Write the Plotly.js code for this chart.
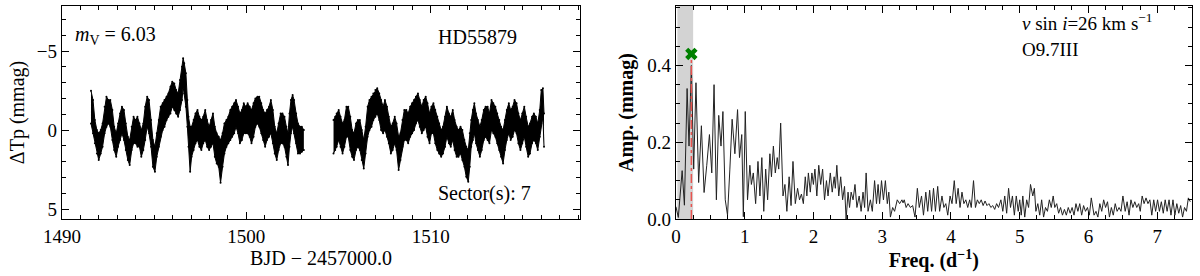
<!DOCTYPE html>
<html>
<head>
<meta charset="utf-8">
<script src="https://cdn.plot.ly/plotly-3.0.1.min.js"></script>
<style>html,body{margin:0;padding:0;background:#fff;}#chart{width:1200px;height:276px;}</style>
</head>
<body>
<div id="chart"></div>
<script>
// ---- Light curve (left panel): time in BJD-2457000, upper / lower edge of the point band (mmag)
const time1 = [1491.57,1491.68,1491.78,1491.89,1491.99,1492.10,1492.20,1492.31,1492.41,1492.52,1492.62,1492.73,1492.83,1492.94,1493.04,1493.15,1493.25,1493.36,1493.46,1493.57,1493.67,1493.78,1493.88,1493.99,1494.09,1494.20,1494.30,1494.41,1494.51,1494.62,1494.72,1494.83,1494.93,1495.04,1495.14,1495.25,1495.35,1495.46,1495.56,1495.67,1495.77,1495.88,1495.98,1496.09,1496.19,1496.30,1496.40,1496.51,1496.57,1496.63,1496.72,1496.80,1496.86,1496.95,1497.03,1497.14,1497.24,1497.35,1497.45,1497.56,1497.66,1497.77,1497.87,1497.98,1498.08,1498.19,1498.29,1498.39,1498.50,1498.60,1498.71,1498.81,1498.92,1499.02,1499.13,1499.23,1499.34,1499.44,1499.55,1499.65,1499.76,1499.86,1499.97,1500.07,1500.18,1500.28,1500.39,1500.49,1500.60,1500.70,1500.81,1500.91,1501.02,1501.12,1501.23,1501.33,1501.44,1501.54,1501.65,1501.75,1501.86,1501.96,1502.07,1502.17,1502.26,1502.34,1502.42,1502.51,1502.59,1502.70,1502.80,1502.91,1503.01,1503.12];
const bandTop1 = [-2.49,-1.90,-0.63,0,0.21,0,-0.42,-1.48,-2.11,-1.90,-1.90,-1.27,-0.21,0.21,-0.42,-1.05,-1.48,-1.27,-0.42,0.42,0.63,-0.21,-0.84,-0.63,-0.84,-0.42,0,-0.42,-1.48,-2.11,-1.90,-0.63,0.63,1.05,0.21,-0.63,-1.48,-1.69,-1.90,-2.11,-2.32,-2.74,-3.06,-2.95,-2.53,-2.32,-3.16,-4.01,-4.54,-4.22,-3.59,-1.90,-0.84,-0.21,-0.21,-0.63,-1.05,-1.27,-0.84,-0.63,-0.84,-1.27,-0.63,-0.21,-0.63,-1.05,-0.21,0.21,0.42,0.63,0.21,-0.42,-0.63,-0.84,-1.27,-1.48,-1.69,-1.90,-1.48,-1.05,-1.27,-1.69,-1.48,-1.69,-1.48,-1.27,-1.69,-2.00,-2.11,-2.11,-1.69,-1.27,-1.05,-1.27,-1.48,-1.90,-1.27,-0.21,0.21,-0.42,-1.05,-1.05,-0.84,-0.21,0.21,-1.05,-1.90,-2.22,-1.90,-1.05,-0.42,-0.21,-0.21,0];
const bandBot1 = [-0.42,0.21,0.84,1.48,1.90,1.48,1.05,0.21,-0.21,-0.42,-0.21,0.63,1.27,1.69,1.05,0.63,0.21,0.63,1.27,1.90,2.22,1.27,0.84,0.84,1.05,1.05,1.69,1.27,0.63,-0.21,0.21,1.05,2.32,2.64,1.69,1.05,0.42,0,-0.21,-0.63,-0.84,-1.05,-1.48,-1.27,-1.05,-0.84,-1.27,-1.90,-2.74,-2.32,-1.48,-0.21,1.05,2.64,1.69,1.27,0.84,0.63,1.05,1.27,0.84,0.63,1.05,1.27,1.05,0.84,1.69,2.11,2.32,3.33,2.32,1.48,1.05,0.84,0.63,0.42,0.21,-0.21,0.21,0.84,0.63,0.21,0.21,0.21,0.42,0.84,0.42,-0.21,-0.42,-0.21,0.21,0.63,1.05,0.63,0.42,0.21,0.84,1.48,1.90,1.27,0.84,0.84,1.05,1.69,2.22,1.05,0.21,-0.21,0.21,0.84,1.48,1.48,1.37,1.27];
const time2 = [1504.73,1504.82,1504.90,1505.01,1505.11,1505.22,1505.32,1505.43,1505.53,1505.64,1505.74,1505.84,1505.95,1506.05,1506.16,1506.26,1506.37,1506.47,1506.58,1506.68,1506.79,1506.89,1507.00,1507.10,1507.21,1507.31,1507.42,1507.52,1507.63,1507.73,1507.84,1507.94,1508.05,1508.15,1508.26,1508.36,1508.47,1508.57,1508.68,1508.78,1508.89,1508.99,1509.10,1509.20,1509.31,1509.41,1509.52,1509.62,1509.73,1509.83,1509.94,1510.04,1510.15,1510.25,1510.36,1510.46,1510.57,1510.67,1510.78,1510.88,1510.99,1511.09,1511.20,1511.30,1511.41,1511.51,1511.62,1511.72,1511.83,1511.93,1512.04,1512.12,1512.20,1512.29,1512.37,1512.46,1512.56,1512.67,1512.77,1512.88,1512.98,1513.09,1513.19,1513.30,1513.40,1513.51,1513.61,1513.72,1513.82,1513.93,1514.03,1514.13,1514.24,1514.34,1514.45,1514.55,1514.66,1514.76,1514.87,1514.97,1515.08,1515.18,1515.29,1515.39,1515.50,1515.60,1515.71,1515.81,1515.92,1516.00,1516.09,1516.15];
const bandTop2 = [-0.63,-0.84,-1.05,-1.27,-0.84,-0.42,-0.63,-1.48,-1.48,-0.84,0,0.21,-0.42,-0.63,-0.63,0,0.63,-0.21,-1.48,-1.90,-2.11,-2.32,-2.53,-2.64,-2.32,-1.90,-1.48,-1.90,-1.48,-0.84,-0.21,-0.42,-0.84,-0.42,0.42,0.21,-0.63,-1.27,-1.27,-1.05,-1.48,-1.69,-1.90,-2.11,-2.32,-1.90,-1.48,-1.90,-2.11,-1.69,-1.05,-1.48,-1.69,-1.27,-0.84,-0.42,0,-0.21,-0.84,-1.48,-1.05,-0.84,-1.27,-0.63,-0.21,0,-0.21,0,0.63,1.05,1.27,0.21,-0.63,-1.27,-1.69,-1.05,-0.63,-0.21,-0.63,-1.27,-1.48,-1.48,-1.05,-1.90,-1.69,-1.48,-1.05,-0.63,-0.21,0,-0.63,-1.27,-1.69,-1.27,-1.48,-1.90,-1.69,-1.05,-0.63,-1.05,-1.48,-0.84,-0.21,-0.42,-0.84,-1.05,-0.84,-0.42,-1.27,-2.53,-2.64,-1.05];
const bandBot2 = [1.48,1.27,1.05,0.63,1.05,1.48,1.05,0.42,0.42,1.27,1.69,1.90,1.27,1.05,1.27,1.90,2.43,1.48,0.42,0,-0.21,-0.63,-0.84,-1.05,-0.63,0,0.21,0,0.42,0.84,1.48,1.27,0.84,1.27,2.53,1.90,1.05,0.63,0.63,0.84,0.42,0.21,0,-0.42,-0.63,-0.21,0.21,0,-0.21,0.42,0.84,0.21,0.21,0.84,1.27,1.48,1.69,1.48,1.05,0.42,0.84,1.05,0.63,1.27,1.69,1.69,1.48,1.90,2.32,2.95,3.27,2.32,1.05,0.63,0.21,0.84,1.27,1.69,1.27,0.63,0.42,0.63,0.84,0,0.21,0.42,0.84,1.27,1.69,2.11,1.27,0.63,0.21,0.63,0.42,0,0.21,0.84,1.27,0.84,0.42,1.05,1.69,1.48,0.84,0.63,0.84,1.27,0.42,-0.42,-0.84,1.05];

// ---- Amplitude spectrum (right panel)
const freq = [0,0.034,0.090,0.123,0.162,0.190,0.224,0.258,0.291,0.330,0.370,0.409,0.448,0.487,0.521,0.554,0.588,0.622,0.655,0.683,0.717,0.750,0.784,0.817,0.857,0.896,0.924,0.957,0.980,1.008,1.041,1.075,1.097,1.125,1.159,1.193,1.221,1.249,1.277,1.305,1.333,1.366,1.389,1.417,1.445,1.473,1.495,1.523,1.557,1.585,1.613,1.646,1.674,1.702,1.736,1.769,1.797,1.825,1.853,1.881,1.904,1.926,1.954,1.977,1.999,2.021,2.049,2.077,2.105,2.133,2.161,2.189,2.212,2.245,2.273,2.301,2.318,2.340,2.368,2.396,2.424,2.452,2.475,2.503,2.525,2.548,2.576,2.604,2.632,2.665,2.693,2.721,2.744,2.766,2.794,2.828,2.856,2.889,2.917,2.940,2.962,2.990,3.018,3.046,3.074,3.096,3.119,3.152,3.180,3.219,3.253,3.287,3.303,3.320,3.348,3.376,3.410,3.443,3.477,3.511,3.539,3.572,3.600,3.634,3.662,3.690,3.718,3.746,3.774,3.807,3.835,3.869,3.897,3.925,3.953,3.987,4.015,4.048,4.076,4.104,4.132,4.160,4.188,4.216,4.244,4.272,4.295,4.328,4.356,4.384,4.412,4.440,4.468,4.496,4.524,4.552,4.580,4.608,4.636,4.664,4.692,4.726,4.754,4.782,4.810,4.838,4.866,4.894,4.922,4.950,4.978,5.000,5.022,5.045,5.073,5.101,5.129,5.157,5.190,5.213,5.235,5.263,5.291,5.319,5.347,5.375,5.403,5.431,5.459,5.487,5.510,5.538,5.566,5.594,5.622,5.650,5.678,5.706,5.734,5.762,5.790,5.818,5.846,5.873,5.901,5.929,5.957,5.985,6.013,6.041,6.081,6.109,6.137,6.165,6.193,6.221,6.249,6.277,6.305,6.333,6.361,6.389,6.417,6.445,6.473,6.501,6.534,6.562,6.590,6.618,6.646,6.674,6.702,6.730,6.753,6.781,6.809,6.837,6.865,6.893,6.921,6.949,6.977,7.005,7.032,7.060,7.088,7.116,7.144,7.172,7.200,7.229,7.257,7.285,7.313,7.341,7.369,7.397,7.425,7.453,7.481,7.503];
const amp = [0.032,0.004,0.126,0.036,0.34,0.19,0.40,0.13,0.355,0.095,0.243,0.069,0.14,0.22,0.12,0.35,0.05,0.27,0.19,0.28,0.05,0.01,0.13,0.26,0.17,0.285,0.16,0.22,0.006,0.28,0.05,0.14,0.09,0.12,0.04,0.15,0.06,0.16,0.02,0.13,0.05,0.17,0.11,0.19,0.12,0.16,0.13,0.25,0.06,0.09,0.02,0.11,0.035,0.15,0.04,0.08,0.05,0.065,0.04,0.11,0.06,0.12,0.07,0.12,0.09,0.13,0.06,0.14,0.09,0.13,0.05,0.10,0.06,0.12,0.07,0.11,0.08,0.14,0.06,0.11,0.05,0.085,0.0,0.07,0.03,0.07,0.05,0.09,0.03,0.06,0.02,0.07,0.03,0.12,0.02,0.05,0.02,0.10,0.04,0.09,0.04,0.10,0.05,0.10,0.04,0.07,0.005,0.03,0.02,0.05,0.04,0.05,0.042,0.05,0.03,0.04,0.03,0.035,0.005,0.08,0.03,0.06,0.01,0.07,0.02,0.075,0.02,0.08,0.02,0.085,0.02,0.06,0.03,0.04,0.01,0.06,0.04,0.10,0.04,0.08,0.03,0.07,0.04,0.05,0.03,0.05,0.03,0.10,0.03,0.05,0.04,0.05,0.035,0.047,0.035,0.04,0.03,0.035,0.025,0.04,0.03,0.05,0.02,0.06,0.015,0.08,0.03,0.06,0.01,0.06,0.02,0.05,0.01,0.06,0.005,0.05,0.03,0.09,0.06,0.08,0.02,0.04,0.01,0.05,0.005,0.03,0.02,0.05,0.03,0.06,0.03,0.04,0.015,0.03,0.01,0.025,0.01,0.03,0.015,0.03,0.01,0.04,0.02,0.04,0.01,0.035,0.02,0.03,0.01,0.055,0.01,0.02,0.005,0.04,0.02,0.05,0.03,0.045,0.005,0.03,0.01,0.04,0.02,0.03,0.02,0.06,0.02,0.045,0.01,0.05,0.03,0.045,0.03,0.04,0.02,0.06,0.04,0.055,0.04,0.05,0.01,0.05,0.02,0.05,0.02,0.045,0.015,0.05,0.02,0.05,0.01,0.05,0.01,0.04,0.015,0.035,0.005,0.03,0.02,0.055,0.045];

// dominant frequency and shaded low-frequency band
const peakFreq = [0.224];
const peakAmp = [0.43];
const lowFreqBand = [0.02, 0.25];

const FONT = 'Liberation Serif, Times New Roman, serif';

const traces = [
  {x: time1, y: bandTop1, xaxis: 'x', yaxis: 'y', mode: 'lines+markers', line: {color: '#000', width: 1}, marker: {color: '#000', size: 2}, hoverinfo: 'skip', showlegend: false},
  {x: time1, y: bandBot1, xaxis: 'x', yaxis: 'y', mode: 'lines+markers', fill: 'tonexty', fillcolor: '#000', line: {color: '#000', width: 1}, marker: {color: '#000', size: 2}, hoverinfo: 'skip', showlegend: false},
  {x: time2, y: bandTop2, xaxis: 'x', yaxis: 'y', mode: 'lines+markers', line: {color: '#000', width: 1}, marker: {color: '#000', size: 2}, hoverinfo: 'skip', showlegend: false},
  {x: time2, y: bandBot2, xaxis: 'x', yaxis: 'y', mode: 'lines+markers', fill: 'tonexty', fillcolor: '#000', line: {color: '#000', width: 1}, marker: {color: '#000', size: 2}, hoverinfo: 'skip', showlegend: false},
  {x: freq, y: amp, xaxis: 'x2', yaxis: 'y2', mode: 'lines', line: {color: '#222', width: 1}, showlegend: false},
  {x: [peakFreq[0], peakFreq[0]], y: [0, peakAmp[0]], xaxis: 'x2', yaxis: 'y2', mode: 'lines', line: {color: '#e8534f', width: 1.5, dash: 'dashdot'}, showlegend: false},
  {x: peakFreq, y: peakAmp, xaxis: 'x2', yaxis: 'y2', mode: 'markers', marker: {symbol: 'x', color: '#008000', size: 11}, showlegend: false}
];

const axisCommon = {
  showline: true, linecolor: '#000', linewidth: 1.2, mirror: 'allticks',
  ticks: 'inside', ticklen: 7, tickwidth: 1, tickcolor: '#000',
  showgrid: false, zeroline: false,
  tickfont: {family: FONT, size: 19, color: '#000'}
};

const layout = {
  width: 1200, height: 276,
  margin: {l: 0, r: 0, t: 0, b: 0},
  paper_bgcolor: '#fff', plot_bgcolor: '#fff',
  font: {family: FONT, color: '#000'},
  xaxis: Object.assign({}, axisCommon, {
    domain: [0.0517, 0.4833], range: [1490, 1518.1], anchor: 'y',
    dtick: 10, tick0: 1490,
    minor: {ticks: 'inside', dtick: 1, ticklen: 4, tickcolor: '#000', showgrid: false},
    title: {text: 'BJD \u2212 2457000.0', font: {family: FONT, size: 20}, standoff: 4}
  }),
  yaxis: Object.assign({}, axisCommon, {
    domain: [0.2065, 0.9783], range: [5.63, -7.85], anchor: 'x',
    dtick: 5, tick0: 0,
    minor: {ticks: 'inside', dtick: 1, ticklen: 4, tickcolor: '#000', showgrid: false},
    title: {text: '\u0394Tp (mmag)', font: {family: FONT, size: 20}, standoff: 6}
  }),
  xaxis2: Object.assign({}, axisCommon, {
    domain: [0.5633, 0.993], range: [0, 7.5], anchor: 'y2',
    dtick: 1, tick0: 0,
    minor: {ticks: 'inside', dtick: 0.25, ticklen: 4, tickcolor: '#000', showgrid: false},
    title: {text: '<b>Freq. (d<sup>\u22121</sup>)</b>', font: {family: FONT, size: 20}, standoff: 4}
  }),
  yaxis2: Object.assign({}, axisCommon, {
    domain: [0.2065, 0.9783], range: [0, 0.555], anchor: 'x2',
    dtick: 0.2, tick0: 0, tickformat: '.1f',
    minor: {ticks: 'inside', dtick: 0.05, ticklen: 4, tickcolor: '#000', showgrid: false},
    title: {text: '<b>Amp. (mmag)</b>', font: {family: FONT, size: 20}, standoff: 8}
  }),
  shapes: [
    {type: 'rect', xref: 'x2', yref: 'y2 domain', x0: lowFreqBand[0], x1: lowFreqBand[1], y0: 0, y1: 1, fillcolor: '#d3d3d3', line: {width: 0}, layer: 'below'}
  ],
  annotations: [
    {xref: 'paper', yref: 'paper', x: 73/1200, y: 1 - 35/276, xanchor: 'left', yanchor: 'middle', showarrow: false, text: '<i>m</i><sub>V</sub> = 6.03', font: {family: FONT, size: 20, color: '#000'}},
    {xref: 'paper', yref: 'paper', x: 436/1200, y: 1 - 37/276, xanchor: 'left', yanchor: 'middle', showarrow: false, text: 'HD55879', font: {family: FONT, size: 20, color: '#000'}},
    {xref: 'paper', yref: 'paper', x: 436/1200, y: 1 - 193/276, xanchor: 'left', yanchor: 'middle', showarrow: false, text: 'Sector(s): 7', font: {family: FONT, size: 20, color: '#000'}},
    {xref: 'paper', yref: 'paper', x: 1020/1200, y: 1 - 8/276, xanchor: 'left', yanchor: 'top', showarrow: false, text: '<i>v</i> sin <i>i</i>=26 km s<sup>\u22121</sup>', font: {family: FONT, size: 19, color: '#000'}},
    {xref: 'paper', yref: 'paper', x: 1020/1200, y: 1 - 37/276, xanchor: 'left', yanchor: 'top', showarrow: false, text: 'O9.7III', font: {family: FONT, size: 19, color: '#000'}}
  ]
};

Plotly.newPlot('chart', traces, layout, {staticPlot: true, displayModeBar: false});
</script>
</body>
</html>
